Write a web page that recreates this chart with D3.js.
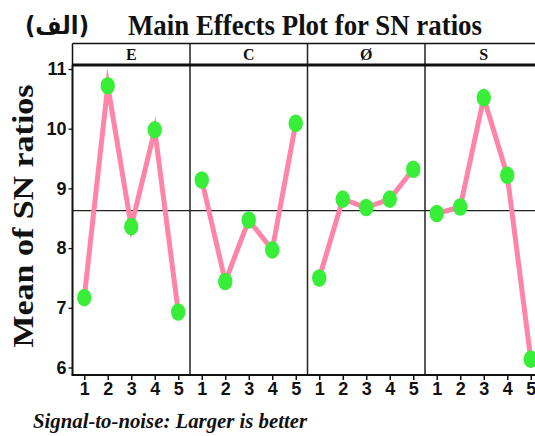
<!DOCTYPE html>
<html><head><meta charset="utf-8">
<script src="https://cdn.jsdelivr.net/npm/d3@7"></script>
<style>
body{margin:0;background:#fff;}
svg{display:block;}
</style></head>
<body>
<svg id="chart" width="535" height="436"></svg>
<script>
// ---- data ----
const factors = ["E", "C", "Ø", "S"];
const levels = [1, 2, 3, 4, 5];
const valuesE = [7.17, 10.72, 8.36, 9.98, 6.93];
const valuesC = [9.14, 7.44, 8.47, 7.97, 10.09];
const valuesO = [7.50, 8.82, 8.68, 8.82, 9.32];
const valuesS = [8.58, 8.69, 10.52, 9.22, 6.14];
const yTicks = [6, 7, 8, 9, 10, 11];
const title = "Main Effects Plot for SN ratios";
const tag = "(الف)";
const yLabel = "Mean of SN ratios";
const xLabel = "Signal-to-noise: Larger is better";

const series = [valuesE, valuesC, valuesO, valuesS];

// ---- layout ----
const svg = d3.select("#chart");
const left = 72.5, panelW = 117.5, headTop = 43.5, headBot = 65, bottom = 375;
const pink = "#ff85a8", green = "#38ee38";

const y = d3.scaleLinear().domain([6, 11]).range([367.5, 69]);
const allVals = series.flat();
const grand = d3.mean(allVals);

// title + tag
svg.append("text").attr("x", 305).attr("y", 35).attr("text-anchor", "middle")
  .attr("font-family", "Liberation Serif, Times New Roman, serif").attr("font-weight", "bold")
  .attr("font-size", 29).attr("textLength", 354).attr("lengthAdjust", "spacingAndGlyphs")
  .attr("fill", "#111").text(title);
svg.append("text").attr("x", 57).attr("y", 34).attr("text-anchor", "middle")
  .attr("font-family", "DejaVu Sans, sans-serif").attr("font-weight", "bold")
  .attr("font-size", 25).attr("textLength", 64).attr("lengthAdjust", "spacingAndGlyphs")
  .attr("fill", "#111").text(tag);

// y label
svg.append("text").attr("transform", "translate(33,216) rotate(-90)").attr("text-anchor", "middle")
  .attr("font-family", "Liberation Serif, Times New Roman, serif").attr("font-weight", "bold")
  .attr("font-size", 29).attr("textLength", 263).attr("lengthAdjust", "spacingAndGlyphs")
  .attr("fill", "#111").text(yLabel);

// x label
svg.append("text").attr("x", 33).attr("y", 428)
  .attr("font-family", "Liberation Serif, Times New Roman, serif").attr("font-weight", "bold")
  .attr("font-style", "italic").attr("font-size", 20).attr("textLength", 274)
  .attr("lengthAdjust", "spacingAndGlyphs").attr("fill", "#111").text(xLabel);

const right = left + panelW * factors.length;

// header strip
svg.append("line").attr("x1", left).attr("x2", right).attr("y1", headTop).attr("y2", headTop)
  .attr("stroke", "#111").attr("stroke-width", 1.5);
factors.forEach((f, i) => {
  const x0 = left + i * panelW;
  svg.append("text").attr("x", x0 + panelW / 2).attr("y", 60).attr("text-anchor", "middle")
    .attr("font-family", "Liberation Serif, Times New Roman, serif").attr("font-weight", "bold")
    .attr("font-size", 16).attr("fill", "#111").text(f);
});

// panel dividers
for (let i = 1; i < factors.length; i++) {
  const x0 = left + i * panelW;
  svg.append("line").attr("x1", x0).attr("x2", x0).attr("y1", headTop).attr("y2", bottom)
    .attr("stroke", "#222").attr("stroke-width", 1.5);
}
svg.append("line").attr("x1", left).attr("x2", left).attr("y1", headTop).attr("y2", headBot)
  .attr("stroke", "#111").attr("stroke-width", 1.5);

// reference line
svg.append("line").attr("x1", left).attr("x2", right).attr("y1", y(grand)).attr("y2", y(grand))
  .attr("stroke", "#222").attr("stroke-width", 1.3);

// y axis
const yAxis = svg.append("g").attr("transform", `translate(${left},0)`)
  .call(d3.axisLeft(y).tickValues(yTicks).tickFormat(d3.format("d")).tickSize(4).tickSizeOuter(0).tickPadding(2));
yAxis.select(".domain").remove();
yAxis.selectAll("line").attr("stroke", "#111").attr("stroke-width", 1.3);
yAxis.selectAll("text").attr("font-family", "Liberation Sans Narrow, Liberation Sans, Arial, sans-serif")
  .attr("font-weight", "bold").attr("font-size", 18).attr("fill", "#111");
svg.append("line").attr("x1", left).attr("x2", left).attr("y1", headBot).attr("y2", bottom)
  .attr("stroke", "#111").attr("stroke-width", 2);

// panels
series.forEach((vals, i) => {
  const x0 = left + i * panelW;
  const x = d3.scaleLinear().domain([0.5, 5.5]).range([x0, x0 + panelW]);
  const g = svg.append("g");
  const xAxis = g.append("g").attr("transform", `translate(0,${bottom})`)
    .call(d3.axisBottom(x).tickValues(levels).tickFormat(d3.format("d")).tickSize(5).tickSizeOuter(0).tickPadding(2));
  xAxis.select(".domain").remove();
  xAxis.selectAll("line").attr("stroke", "#111").attr("stroke-width", 1.5);
  xAxis.selectAll("text").attr("font-family", "Liberation Sans Narrow, Liberation Sans, Arial, sans-serif")
    .attr("font-weight", "bold").attr("font-size", 18).attr("fill", "#111");

  const line = d3.line().x((d, j) => x(levels[j])).y(d => y(d));
  g.append("path").datum(vals).attr("d", line).attr("fill", "none")
    .attr("stroke", pink).attr("stroke-width", 5)
    .attr("stroke-linejoin", "miter").attr("stroke-miterlimit", 12);
  g.selectAll("ellipse").data(vals).join("ellipse")
    .attr("cx", (d, j) => x(levels[j])).attr("cy", d => y(d))
    .attr("rx", 7.2).attr("ry", 8.8).attr("fill", green);
});

// bottom axis line and header bottom
svg.append("line").attr("x1", left - 1).attr("x2", right).attr("y1", bottom).attr("y2", bottom)
  .attr("stroke", "#111").attr("stroke-width", 2);
svg.append("line").attr("x1", left).attr("x2", right).attr("y1", headBot).attr("y2", headBot)
  .attr("stroke", "#111").attr("stroke-width", 3);
</script>
</body></html>
